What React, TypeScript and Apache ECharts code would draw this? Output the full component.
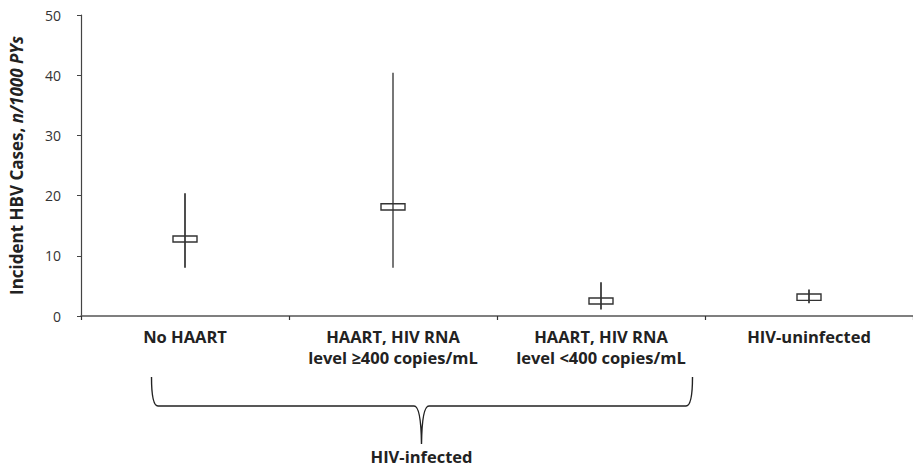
import React, { useEffect, useRef } from "react";
import * as echarts from "echarts";

const categories = [
  "No HAART",
  "HAART, HIV RNA\nlevel ≥400 copies/mL",
  "HAART, HIV RNA\nlevel <400 copies/mL",
  "HIV-uninfected",
];
const lowValues = [8.0, 8.0, 1.1, 2.1];
const boxLowValues = [12.3, 17.6, 2.0, 2.6];
const boxHighValues = [13.3, 18.65, 3.0, 3.65];
const highValues = [20.4, 40.4, 5.6, 4.4];
const whiskerColors = ["#222222", "#555555", "#222222", "#222222"];
const yTicks = [0, 10, 20, 30, 40, 50];
const groupLabel = "HIV-infected";

const FONT = "'Open Sans', 'Noto Sans', sans-serif";

echarts.graphic.registerShape(
  "brace",
  echarts.graphic.extendPath(
    "M151.5 377 Q151.5 406 158 406 L414 406 Q421 406 421.5 444 Q422 406 429 406 L686 406 Q692.5 406 692.5 377",
    {}
  )
);

export default function App() {
  const ref = useRef<HTMLDivElement>(null);
  useEffect(() => {
    if (!ref.current) return;
    const chart = echarts.init(ref.current, null, { renderer: "svg" });
    const data = categories.map((_, i) => [
      i,
      lowValues[i],
      boxLowValues[i],
      boxHighValues[i],
      highValues[i],
    ]);
    chart.setOption({
      animation: false,
      backgroundColor: "#ffffff",
      textStyle: { fontFamily: FONT },
      grid: { left: 81, top: 15, bottom: 150, width: 844, containLabel: false },
      xAxis: {
        type: "category",
        data: categories,
        boundaryGap: true,
        axisLine: { lineStyle: { color: "#555", width: 1.5 } },
        axisTick: { show: true, length: 4, lineStyle: { color: "#333", width: 1.2 } },
        axisLabel: {
          fontFamily: FONT,
          fontSize: 16.5,
          fontWeight: "bold",
          color: "#222",
          lineHeight: 21,
          margin: 10,
          interval: 0,
        },
        splitLine: { show: false },
      },
      yAxis: {
        type: "value",
        min: yTicks[0],
        max: yTicks[yTicks.length - 1],
        interval: 10,
        name: "{b|Incident HBV Cases, }{i|n/1000 PYs}",
        nameLocation: "middle",
        nameGap: 56,
        nameTextStyle: {
          rich: {
            b: { fontFamily: FONT, fontSize: 17, fontWeight: "bold", color: "#222" },
            i: {
              fontFamily: FONT,
              fontSize: 17,
              fontWeight: "bold",
              fontStyle: "italic",
              color: "#222",
            },
          },
        },
        axisLine: { show: true, lineStyle: { color: "#444", width: 1.2 } },
        axisTick: { show: true, length: 4, lineStyle: { color: "#444" } },
        axisLabel: { fontFamily: FONT, fontSize: 14, color: "#333", margin: 20 },
        splitLine: { show: false },
      },
      series: [
        {
          type: "custom",
          data,
          encode: { x: 0, y: [1, 2, 3, 4] },
          renderItem: (params: any, api: any) => {
            const idx = api.value(0);
            const pLow = api.coord([idx, api.value(1)]);
            const pQ1 = api.coord([idx, api.value(2)]);
            const pQ3 = api.coord([idx, api.value(3)]);
            const pHigh = api.coord([idx, api.value(4)]);
            const w = 24;
            const color = whiskerColors[params.dataIndex];
            return {
              type: "group",
              children: [
                {
                  type: "line",
                  shape: { x1: pLow[0], y1: pLow[1], x2: pHigh[0], y2: pHigh[1] },
                  style: { stroke: color, lineWidth: 1.6 },
                },
                {
                  type: "rect",
                  shape: { x: pQ3[0] - w / 2, y: pQ3[1], width: w, height: pQ1[1] - pQ3[1] },
                  style: { fill: "none", stroke: "#333", lineWidth: 1.4 },
                },
              ],
            };
          },
        },
      ],
      graphic: [
        {
          type: "brace",
          x: 0,
          y: 0,
          style: { fill: "none", stroke: "#222", lineWidth: 1.4 },
        },
        {
          type: "text",
          x: 421.5,
          y: 456,
          style: {
            text: groupLabel,
            fontFamily: FONT,
            fontSize: 16.5,
            fontWeight: "bold",
            fill: "#222",
            align: "center",
            verticalAlign: "middle",
          },
        },
      ],
    });
    return () => chart.dispose();
  }, []);
  return (
    <div
      ref={ref}
      style={{ position: "fixed", left: 0, top: 0, width: 913, height: 466, background: "#fff" }}
    />
  );
}
